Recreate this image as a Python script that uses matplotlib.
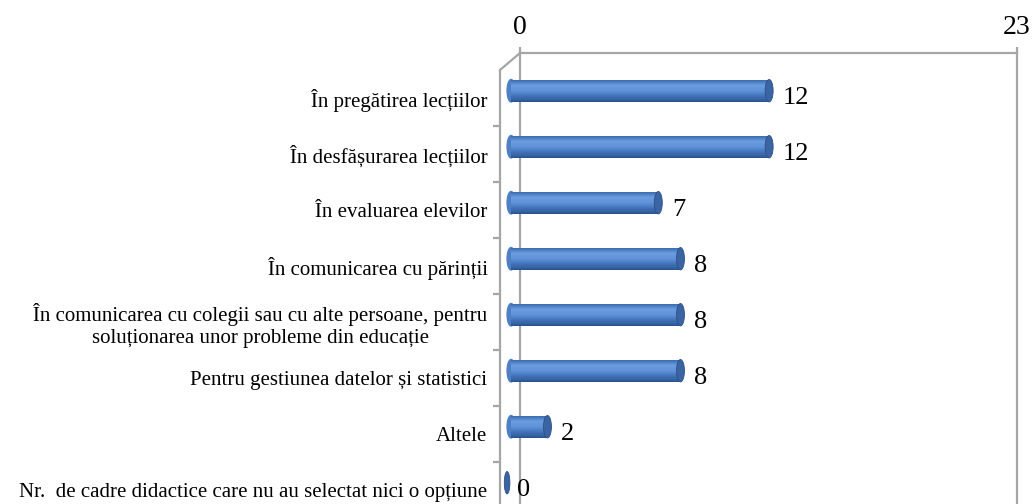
import numpy as np
import matplotlib.pyplot as plt
from matplotlib.colors import LinearSegmentedColormap
from matplotlib.patches import Ellipse
from matplotlib.lines import Line2D
from matplotlib.ticker import FixedLocator

plt.rcParams['font.family'] = ['Liberation Serif', 'DejaVu Serif']

categories = [
    "În pregătirea lecțiilor",
    "În desfășurarea lecțiilor",
    "În evaluarea elevilor",
    "În comunicarea cu părinții",
    "În comunicarea cu colegii sau cu alte persoane, pentru\nsoluționarea unor probleme din educație",
    "Pentru gestiunea datelor și statistici",
    "Altele",
    "Nr.  de cadre didactice care nu au selectat nici o opțiune",
]
values = [12, 12, 7, 8, 8, 8, 2, 0]
axis_max = 23

W, H = 1032, 504
fig = plt.figure(figsize=(W / 100, H / 100), dpi=100)
fig.patch.set_facecolor('white')

grey = '#a6a6a6'

# back wall (gridlines / value axis at top)
back = fig.add_axes([520 / W, (H - 518) / H, 497 / W, 465 / H])
back.set_xlim(0, axis_max)
back.set_ylim(0, 1)
back.set_facecolor('none')
for side in ['top', 'left', 'right']:
    back.spines[side].set_color(grey)
    back.spines[side].set_linewidth(1.6)
back.spines['bottom'].set_visible(False)
back.set_yticks([])
back.xaxis.set_ticks_position('top')
back.set_xticks([0, axis_max])
back.tick_params(axis='x', length=4, width=1.6, color=grey, pad=5, labelsize=20)

# front axes with bars
ax = fig.add_axes([500 / W, (H - 518) / H, 517 / W, 448 / H])
ax.set_facecolor('none')
ax.set_xlim(-0.32, axis_max)
ax.set_ylim(len(categories) - 0.5, -0.5)
for side in ['top', 'right', 'bottom']:
    ax.spines[side].set_visible(False)
ax.spines['left'].set_color(grey)
ax.spines['left'].set_linewidth(1.6)
ax.set_xticks([])
pos = np.arange(len(categories))
ax.set_yticks(pos)
ax.set_yticklabels(categories)
ax.yaxis.set_minor_locator(FixedLocator(np.arange(len(categories)) + 0.5))
ax.tick_params(axis='y', which='major', length=0, pad=9, labelsize=15)
ax.tick_params(axis='y', which='minor', length=5, width=1.6, color=grey)
for lbl in ax.get_yticklabels():
    lbl.set_multialignment('center')
    lbl.set_linespacing(1.15)

# diagonal joining the front and back walls
fig.add_artist(Line2D([500 / W, 520 / W], [(H - 70) / H, (H - 53) / H],
                      color=grey, lw=1.6))

# cylinder-like bars
depth = 0.13
bar_h = 0.40
cap_w = 0.36
cyl = LinearSegmentedColormap.from_list(
    'cyl', ['#3e6fb3', '#6b9de0', '#5e91d7', '#4474b8', '#2b5592'])
n_strips = 20
edges = np.linspace(-bar_h / 2, bar_h / 2, n_strips + 1)
for p, v in zip(pos, values):
    yc = p - depth
    if v > 0:
        ax.add_patch(Ellipse((cap_w / 2, yc), cap_w, bar_h, color='#4f80c4', zorder=2))
        for i in range(n_strips):
            ax.barh(yc + (edges[i] + edges[i + 1]) / 2, v - cap_w, left=cap_w / 2,
                    height=edges[1] - edges[0], color=cyl(i / (n_strips - 1)),
                    linewidth=0, zorder=3)
        ax.add_patch(Ellipse((v - cap_w / 2, yc), cap_w, bar_h, facecolor='#3a64a2',
                             edgecolor='#2d5088', lw=0.6, zorder=4))
    else:
        ax.add_patch(Ellipse((0, yc), cap_w * 0.7, bar_h, facecolor='#3a64a2',
                             edgecolor='#2d5088', lw=0.6, zorder=4))
    ax.annotate(str(v), (v, p), xytext=(7, 0), textcoords='offset points',
                va='center', ha='left', fontsize=19)

fig.savefig('out.png', dpi=100, facecolor='white')
